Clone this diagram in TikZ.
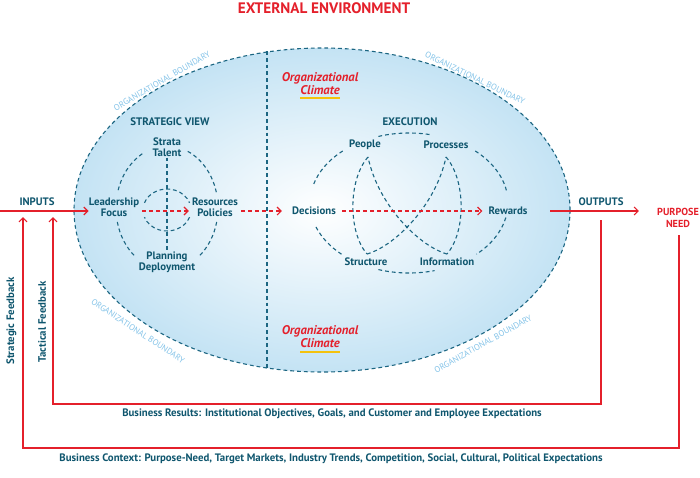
\documentclass[tikz,border=0pt]{standalone}
\usepackage{fontspec}
\setmainfont{PT Sans}
\setsansfont{PT Sans}
\usetikzlibrary{arrows.meta,positioning,calc}
\definecolor{EnvRed}{HTML}{E4202B}
\definecolor{OrgTeal}{HTML}{0F566E}
\definecolor{OrgLine}{HTML}{1C6682}
\definecolor{OrgFill}{HTML}{C4E3F4}
\definecolor{OrgSky}{HTML}{84C3E8}
\definecolor{OrgGold}{HTML}{F4C20D}
\tikzset{
  figlabel/.style={font=\sffamily\bfseries\fontsize{10.8}{11}\selectfont, text=OrgTeal, align=center, inner sep=0pt},
  figtitle/.style={font=\sffamily\bfseries\fontsize{10.9}{12}\selectfont, text=OrgTeal, inner sep=0pt},
  redlabel/.style={font=\sffamily\bfseries\fontsize{10.2}{12}\selectfont, text=EnvRed, align=center, inner sep=0pt},
  climate/.style={font=\sffamily\bfseries\itshape\fontsize{12.6}{13}\selectfont, text=EnvRed, align=center, inner sep=0pt},
  boundary/.style={font=\sffamily\fontsize{8.5}{9}\selectfont, text=OrgSky, inner sep=0pt},
  orgdash/.style={draw=OrgLine, line width=1.1pt, dash pattern=on 3.8pt off 3pt},
  goldline/.style={draw=OrgGold, line width=1.5pt},
  redline/.style={draw=EnvRed, line width=1.2pt},
  redarrow/.style={redline, -{Straight Barb[length=4pt,width=8pt]}},
  reddash/.style={redarrow, dash pattern=on 4pt off 3pt}
}
\begin{document}
\begin{tikzpicture}[x=1pt, y=-1pt]
\useasboundingbox (0,0) rectangle (700,477);
% organization
\shade[inner color=white, outer color=OrgFill] (322,210) ellipse (248 and 162);
\draw[orgdash] (322,210) ellipse (248 and 162);
\coordinate (divtop) at (267,51);
\coordinate (divbot) at (267,369);
\draw[orgdash] (divtop) -- (divbot);
\node[font=\sffamily\bfseries\fontsize{15.2}{17}\selectfont, text=EnvRed] (env) at (324,8) {EXTERNAL ENVIRONMENT};
\node[boundary, rotate=30] (bnd1) at (162,81) {ORGANIZATIONAL BOUNDARY};
\node[boundary, rotate=-26] (bnd2) at (475,78) {ORGANIZATIONAL BOUNDARY};
\node[boundary, rotate=-33.5] (bnd3) at (138,331) {ORGANIZATIONAL BOUNDARY};
\node[boundary, rotate=29] (bnd4) at (483,344) {ORGANIZATIONAL BOUNDARY};
\node[climate] (climup) at (320,83.5) {Organizational\\Climate};
\node[climate] (climdn) at (320,336.5) {Organizational\\Climate};
\draw[goldline] (300,98) -- (340,98);
\draw[goldline] (300,352) -- (340,352);
% strategic view
\node[figtitle] (sv) at (170,122) {STRATEGIC VIEW};
\node[figlabel] (strata) at (167,147) {Strata\\Talent};
\node[figlabel] (lead) at (114,207.5) {Leadership\\Focus};
\node[figlabel] (reso) at (215,207.5) {Resources\\Policies};
\node[figlabel] (plan) at (167,262.5) {Planning\\Deployment};
\coordinate (svc) at (167,208);
\coordinate (svin) at (167,210);
\draw[orgdash] ($(svc)+(241:51 and 62)$) arc[start angle=241, end angle=194, x radius=51, y radius=62];
\draw[orgdash] ($(svc)+(294:51 and 62)$) arc[start angle=294, end angle=348, x radius=51, y radius=62];
\draw[orgdash] ($(svc)+(167:51 and 62)$) arc[start angle=167, end angle=128, x radius=51, y radius=62];
\draw[orgdash] ($(svc)+(13:51 and 62)$) arc[start angle=13, end angle=52, x radius=51, y radius=62];
\draw[orgdash] ($(svin)+(200:24 and 21)$) arc[start angle=200, end angle=340, x radius=24, y radius=21];
\draw[orgdash] ($(svin)+(20:24 and 21)$) arc[start angle=20, end angle=160, x radius=24, y radius=21];
\draw[orgdash] ([yshift=-1pt]strata.south) -- ([yshift=1pt]plan.north);
\draw[reddash] ([xshift=3pt,yshift=-3.5pt]lead.east) -- ([xshift=-3pt,yshift=-3.5pt]reso.west);
% execution
\node[figtitle] (ex) at (410,122) {EXECUTION};
\node[figlabel] (dec) at (314,211) {Decisions};
\node[figlabel] (peop) at (365,145) {People};
\node[figlabel] (proc) at (446,145) {Processes};
\node[figlabel] (rew) at (508,211) {Rewards};
\node[figlabel] (struc) at (366,262) {Structure};
\node[figlabel] (info) at (447,262) {Information};
\coordinate (exc) at (409,203);
\draw[orgdash] ($(exc)+(252:99 and 70)$) arc[start angle=252, end angle=283, x radius=99, y radius=70];
\draw[orgdash] ($(exc)+(228:99 and 70)$) arc[start angle=228, end angle=195, x radius=99, y radius=70];
\draw[orgdash] ($(exc)+(160:99 and 70)$) arc[start angle=160, end angle=133, x radius=99, y radius=70];
\draw[orgdash] ($(exc)+(108:99 and 70)$) arc[start angle=108, end angle=75, x radius=99, y radius=70];
\draw[orgdash] ($(exc)+(312:99 and 70)$) arc[start angle=312, end angle=350, x radius=99, y radius=70];
\draw[orgdash] ($(exc)+(12:99 and 70)$) arc[start angle=12, end angle=47, x radius=99, y radius=70];
\coordinate (ptip) at (368,157);
\coordinate (stip) at (367,254);
\coordinate (qtip) at (446,157);
\coordinate (itip) at (447,254);
\draw[orgdash] (ptip) .. controls (348,180) and (348,232) .. (stip);
\draw[orgdash] (stip) .. controls (395,246) and (436,205) .. (qtip);
\draw[orgdash] (qtip) .. controls (466,180) and (466,232) .. (itip);
\draw[orgdash] (itip) .. controls (419,246) and (378,205) .. (ptip);
\draw[reddash] ([xshift=3pt,yshift=-3.5pt]reso.east) -- ([xshift=-10pt]dec.west);
\draw[reddash] ([xshift=6pt]dec.east) -- ([xshift=-6pt]rew.west);
% inputs and outputs
\node[figlabel] (inp) at (37,202) {INPUTS};
\node[figlabel] (outp) at (601,202) {OUTPUTS};
\node[redlabel] (purp) at (678,218) {PURPOSE\\NEED};
\coordinate (inleft) at (0,211);
\coordinate (outstart) at (550,211);
\draw[redarrow] (inleft) -- (inleft -| lead.west);
\draw[redarrow] (outstart) -- ([xshift=-18pt]purp.west |- outstart);
% feedback
\coordinate (tacstart) at (601,220);
\coordinate (tacend) at (53,217);
\coordinate (strstart) at (679,235);
\coordinate (strend) at (23,217);
\draw[redarrow] (tacstart) -- ++(0,184) -| (tacend);
\draw[redarrow] (strstart) -- ++(0,213) -| (strend);
\node[figlabel, rotate=90] (stratfb) at (11.5,321) {Strategic Feedback};
\node[figlabel, rotate=90] (tacfb) at (42,322) {Tactical Feedback};
\node[figlabel] (results) at (332,414) {Business Results: Institutional Objectives, Goals, and Customer and Employee Expectations};
\node[figlabel] (context) at (331,459) {Business Context: Purpose-Need, Target Markets, Industry Trends, Competition, Social, Cultural, Political Expectations};
\end{tikzpicture}
\end{document}
